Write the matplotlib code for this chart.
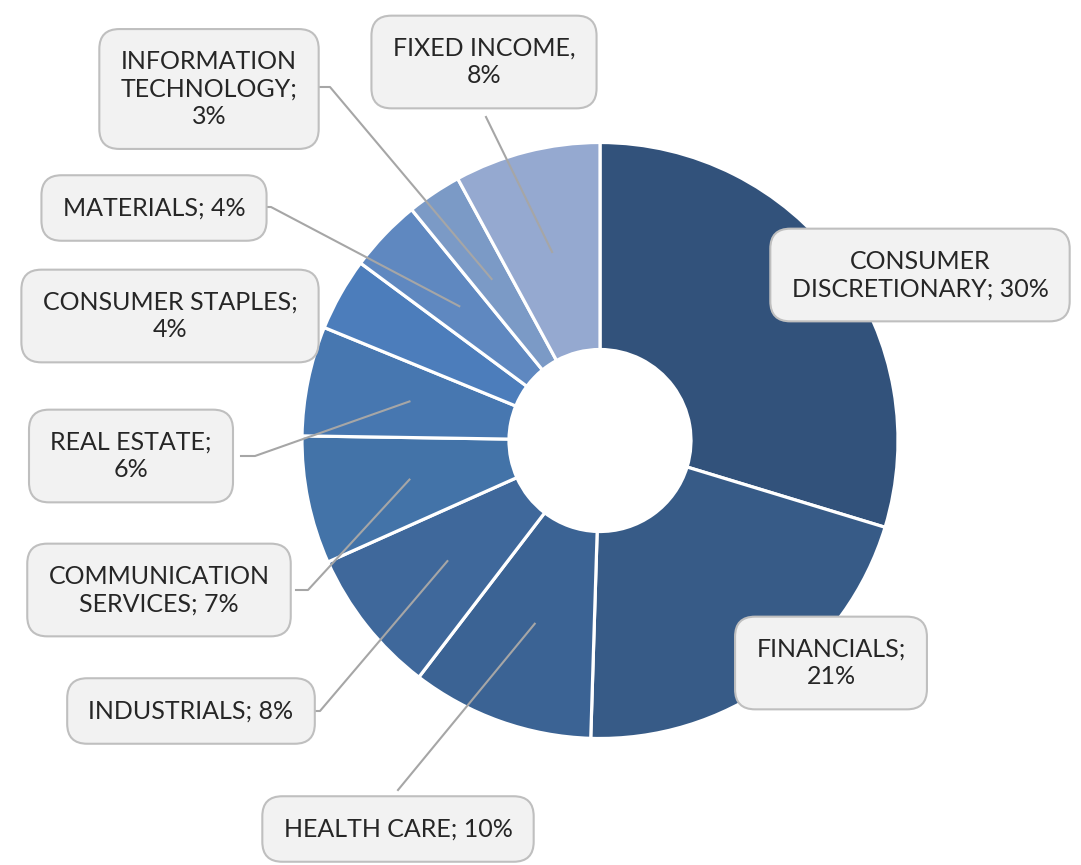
import numpy as np
import matplotlib.pyplot as plt

sectors = ['CONSUMER\nDISCRETIONARY; 30%', 'FINANCIALS;\n21%', 'HEALTH CARE; 10%',
           'INDUSTRIALS; 8%', 'COMMUNICATION\nSERVICES; 7%', 'REAL ESTATE;\n6%',
           'CONSUMER STAPLES;\n4%', 'MATERIALS; 4%', 'INFORMATION\nTECHNOLOGY;\n3%',
           'FIXED INCOME,\n8%']
weights = [30, 21, 10, 8, 7, 6, 4, 4, 3, 8]
colors = ['#32527B', '#375B87', '#3B6394', '#3F689B', '#4373A8', '#4777B0',
          '#4C7DBB', '#5F88C0', '#7B9AC6', '#95A9D0']

W, H = 1081, 865
# label box centres in pixels measured from the top left
label_pos = [(920, 275), (831, 663), (398, 829), (191, 711), (159, 590),
             (131, 456), (170, 316), (154, 208), (209, 89), (484, 62)]
# leader line start points (box edge + elbow), None = no leader
leader_start = [None, None, [(398, 790)], [(306, 711), (320, 711)],
                [(296, 590), (308, 590)], [(241, 456), (255, 456)], None,
                [(259, 207), (271, 207)], [(318, 87), (330, 87)], [(486, 117)]]

plt.rcParams['font.family'] = ['Lato', 'DejaVu Sans']

fig = plt.figure(figsize=(W / 100, H / 100), dpi=100)
ax = fig.add_axes([0, 0, 1, 1])

cx, cy = 600, H - 440.5
R, r = 298, 91
wedges, _ = ax.pie(weights, colors=colors, startangle=90, counterclock=False,
                   center=(cx, cy), radius=R,
                   wedgeprops=dict(width=R - r, edgecolor='white', linewidth=2.3))

ax.set_xlim(0, W)
ax.set_ylim(0, H)
ax.axis('off')

rm = (R + r) / 2
for w, txt, pos, lead in zip(wedges, sectors, label_pos, leader_start):
    if lead is not None:
        mid = np.deg2rad((w.theta1 + w.theta2) / 2)
        ax_pt = (cx + rm * np.cos(mid), cy + rm * np.sin(mid))
        xs = [p[0] for p in lead] + [ax_pt[0]]
        ys = [H - p[1] for p in lead] + [ax_pt[1]]
        ax.plot(xs, ys, color='#A6A6A6', lw=1.5, zorder=3)
    ax.text(pos[0], H - pos[1], txt, ha='center', va='center', fontsize=18,
            color='#262626', linespacing=1.22, zorder=5,
            bbox=dict(boxstyle='round,pad=0.85,rounding_size=0.8', fc='#F2F2F2',
                      ec='#BFBFBF', lw=1.5))

fig.savefig('out.png', dpi=100)
